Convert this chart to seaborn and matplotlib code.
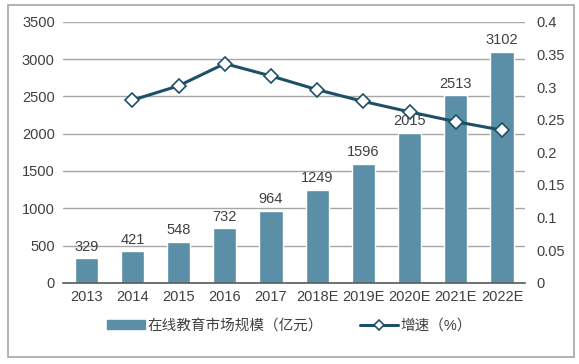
import seaborn as sns
import matplotlib.pyplot as plt
import pandas as pd
from matplotlib.patches import Rectangle

years = ['2013', '2014', '2015', '2016', '2017', '2018E', '2019E', '2020E', '2021E', '2022E']
market_size = [329, 421, 548, 732, 964, 1249, 1596, 2015, 2513, 3102]
growth = [None, 0.280, 0.302, 0.336, 0.317, 0.296, 0.278, 0.262, 0.247, 0.234]

bar_color = '#5b8fa8'
line_color = '#1d5066'

sns.set_style('white')
plt.rcParams['font.family'] = ['Liberation Sans', 'Noto Sans CJK SC', 'DejaVu Sans']

df = pd.DataFrame({'year': years, 'size': market_size, 'growth': growth})

fig = plt.figure(figsize=(5.79, 3.64), dpi=100)
ax = fig.add_axes([0.109, 0.223, 0.798, 0.717])

sns.barplot(data=df, x='year', y='size', color=bar_color, width=0.5,
            saturation=1, ax=ax, zorder=2)
ax.set_ylim(0, 3500)
ax.set_yticks(range(0, 3501, 500))
ax.yaxis.grid(True, color='#a6a6a6', linewidth=1)
ax.set_axisbelow(True)
for s in ['top', 'right', 'left']:
    ax.spines[s].set_visible(False)
ax.spines['bottom'].set_color('#595959')
ax.spines['bottom'].set_linewidth(1.2)
ax.set_xlabel('')
ax.set_ylabel('')
ax.tick_params(axis='both', length=0, labelsize=10.5, colors='#404040', pad=6)
ax.tick_params(axis='x', pad=5)

for i, v in enumerate(market_size):
    ax.text(i, v + 60, str(v), ha='center', va='bottom', fontsize=10.5,
            color='#404040', zorder=1)

ax2 = ax.twinx()
ax2.plot(range(len(years)), growth, color=line_color, linewidth=2.2,
         marker='D', markersize=7, markerfacecolor='white',
         markeredgecolor=line_color, markeredgewidth=1.2)
ax2.set_ylim(0, 0.4)
ax2.set_yticks([0, 0.05, 0.1, 0.15, 0.2, 0.25, 0.3, 0.35, 0.4])
ax2.set_yticklabels(['0', '0.05', '0.1', '0.15', '0.2', '0.25', '0.3', '0.35', '0.4'])
ax2.tick_params(axis='y', length=0, labelsize=10.5, colors='#404040', pad=8)
for s in ax2.spines.values():
    s.set_visible(False)
ax.set_xlim(-0.5, len(years) - 0.5)

bar_handle = Rectangle((0, 0), 1, 1, color=bar_color)
line_handle = plt.Line2D([], [], color=line_color, linewidth=2.2, marker='D',
                         markersize=5, markerfacecolor='white',
                         markeredgecolor=line_color, markeredgewidth=1.2)
fig.legend([bar_handle, line_handle], ['在线教育市场规模（亿元）', '增速（%）'],
           loc='center', bbox_to_anchor=(0.5, 0.105), ncol=2, frameon=False,
           fontsize=10.5, handlelength=2.6, handleheight=0.5,
           columnspacing=2.5, handletextpad=0.2, labelcolor='#404040')

fig.patches.append(Rectangle((0.014, 0.019), 0.978, 0.966, transform=fig.transFigure,
                             fill=False, edgecolor='#a6a6a6', linewidth=1.2))

fig.savefig('out.png', dpi=100)
